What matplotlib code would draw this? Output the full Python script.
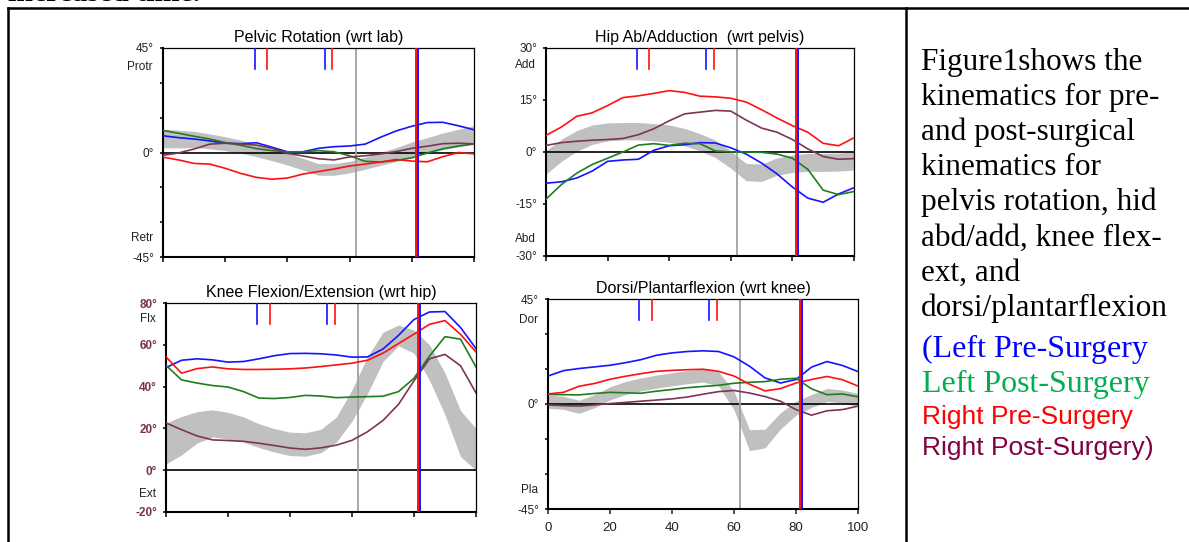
import numpy as np
from matplotlib import pyplot as plt
from matplotlib.lines import Line2D

plt.rcParams['font.family'] = ['Liberation Sans', 'DejaVu Sans']

# gait cycle (%)
cycle = [0, 5, 10, 15, 20, 25, 30, 35, 40, 45, 50, 55, 60, 65, 70, 75, 80, 85, 90, 95, 100]

# pelvic rotation
pelvis_left_pre = [7.2, 6.4, 5.8, 5.0, 4.0, 3.8, 4.2, 2.3, 0.3, 0.3, 1.8, 2.5, 2.8, 3.6, 6.6, 9.3, 11.3, 12.9, 13.0, 11.5, 9.8]
pelvis_left_post = [9.5, 8.3, 7.0, 5.8, 4.3, 3.1, 1.7, 0.8, 0.3, 0.3, 0.8, 0.3, -1.4, -3.8, -4.1, -3.4, -2.3, -0.2, 1.6, 2.8, 3.7]
pelvis_right_pre = [-2.0, -3.2, -4.7, -5.0, -6.8, -9.0, -10.7, -11.5, -11.0, -9.3, -8.2, -7.1, -5.8, -5.0, -4.1, -3.0, -3.7, -4.0, -1.8, 0.0, -0.6]
pelvis_right_post = [-1.2, -0.2, 1.5, 3.6, 4.0, 3.7, 3.2, 1.8, -0.4, -1.5, -2.7, -3.2, -1.9, -1.4, -0.6, 0.4, 1.8, 2.7, 3.8, 4.0, 3.7]
pelvis_norm_mean = [6.0, 5.8, 5.6, 4.8, 3.8, 2.5, 0.8, -1.0, -2.9, -5.0, -7.3, -7.3, -6.3, -4.6, -2.7, -0.9, 1.3, 3.0, 4.8, 6.2, 7.6]
pelvis_norm_sd = [4.0, 3.8, 3.5, 3.2, 3.0, 2.8, 2.6, 2.5, 2.5, 2.5, 2.5, 2.5, 2.5, 2.6, 2.8, 3.0, 3.2, 3.4, 3.6, 3.8, 4.0]

# hip ab/adduction
hip_left_pre = [-9.0, -8.6, -7.5, -5.5, -2.7, -2.3, -2.1, 0.5, 1.8, 2.1, 2.7, 2.6, 1.2, -0.6, -3.2, -6.3, -10.1, -13.3, -14.5, -12.1, -10.3]
hip_left_post = [-13.6, -9.4, -6.1, -3.6, -1.8, 0.0, 2.0, 2.4, 1.9, 2.5, 2.4, 0.3, 0.0, 0.0, -0.1, -0.6, -1.8, -5.0, -11.0, -12.3, -11.4]
hip_right_pre = [4.8, 7.2, 10.3, 11.3, 13.4, 15.7, 16.2, 16.9, 17.7, 17.2, 16.1, 15.9, 15.5, 14.4, 12.2, 9.8, 7.6, 5.7, 2.5, 1.8, 4.1]
hip_right_post = [1.9, 2.7, 3.1, 3.4, 3.6, 3.9, 5.0, 6.7, 9.0, 11.0, 11.5, 12.0, 11.8, 9.2, 6.9, 5.7, 3.6, 0.9, -1.3, -2.1, -1.9]
hip_norm_mean = [-3.0, 0.5, 3.2, 5.0, 5.8, 6.0, 6.0, 5.7, 5.3, 4.3, 2.8, 0.9, -2.2, -5.8, -6.0, -4.2, -3.4, -3.0, -3.0, -2.9, -2.6]
hip_norm_sd = [3.4, 3.2, 3.0, 2.8, 2.6, 2.5, 2.5, 2.5, 2.5, 2.5, 2.5, 2.5, 2.5, 2.5, 2.5, 2.5, 2.5, 2.6, 2.6, 2.6, 2.6]

# knee flexion/extension
knee_left_pre = [49.1, 52.6, 53.3, 52.8, 51.7, 52.0, 53.3, 54.8, 55.8, 55.9, 55.7, 55.1, 54.1, 54.2, 58.0, 64.5, 72.1, 75.7, 75.9, 68.3, 58.2]
knee_left_post = [50.2, 43.2, 41.7, 40.5, 39.8, 37.6, 34.5, 34.3, 34.8, 35.8, 35.5, 34.7, 35.0, 35.2, 35.4, 37.6, 44.0, 54.6, 63.9, 62.7, 49.4]
knee_right_pre = [54.2, 46.4, 48.6, 49.4, 48.5, 48.2, 48.2, 48.3, 48.5, 48.9, 49.6, 50.4, 51.2, 52.6, 56.0, 60.6, 65.1, 69.8, 71.6, 65.0, 56.6]
knee_right_post = [22.6, 19.4, 16.4, 14.5, 14.2, 13.8, 12.9, 11.8, 10.6, 10.0, 10.7, 12.0, 14.3, 18.4, 23.8, 31.5, 42.8, 53.3, 55.4, 50.0, 37.0]
knee_norm_mean = [12.8, 16.5, 20.5, 22.4, 21.3, 19.5, 16.5, 14.3, 12.6, 12.3, 14.0, 19.5, 31.0, 45.5, 59.0, 64.5, 61.5, 51.5, 36.5, 17.5, 10.0]
knee_norm_sd = [9.8, 9.2, 7.5, 6.5, 6.4, 6.0, 5.7, 5.6, 5.6, 5.6, 5.6, 6.0, 7.5, 8.8, 7.0, 5.0, 5.5, 8.5, 10.0, 11.0, 10.0]

# dorsi/plantarflexion
ankle_left_pre = [12.0, 14.3, 15.2, 15.9, 16.6, 17.7, 19.0, 20.9, 21.9, 22.5, 22.8, 22.5, 20.2, 16.2, 11.2, 9.0, 10.5, 15.8, 18.2, 16.5, 13.9]
ankle_left_post = [4.1, 4.0, 3.9, 4.5, 5.0, 4.8, 4.6, 5.5, 6.2, 7.0, 7.5, 8.0, 8.9, 9.3, 9.6, 10.6, 11.0, 6.5, 4.0, 4.3, 3.1]
ankle_right_pre = [4.3, 5.0, 7.6, 8.8, 10.6, 11.9, 13.0, 14.0, 14.4, 14.7, 14.9, 14.0, 12.0, 8.5, 5.6, 6.6, 9.0, 10.5, 11.8, 10.4, 7.7]
ankle_right_post = [-0.4, -0.7, -0.9, -0.4, 0.2, 0.7, 1.2, 1.7, 2.2, 3.0, 4.2, 5.3, 5.8, 4.7, 3.2, 1.2, -2.4, -4.8, -2.9, -2.4, -0.9]
ankle_norm_mean = [1.0, 0.5, -1.2, 1.2, 4.6, 6.8, 8.4, 9.6, 10.6, 11.5, 12.2, 10.8, 1.5, -15.5, -14.8, -7.2, -1.8, 1.3, 3.9, 3.2, 1.7]
ankle_norm_sd = [2.8, 2.8, 2.8, 2.8, 2.8, 2.8, 2.8, 2.8, 2.8, 2.8, 2.8, 3.0, 4.0, 4.5, 4.0, 3.5, 3.0, 2.8, 2.8, 2.8, 2.8]

# gait events (% cycle)
blue_events = [29.5, 52.0]
red_events = [33.6, 54.4]
toe_off_normal = 62.0
toe_off_blue = 81.9
toe_off_red = 81.3

BLUE = '#1414ff'
RED = '#ff1010'
GREEN = '#1e7d1e'
PURPLE = '#7b3556'
KNEE_LABEL = '#7a3548'

W, H = 1189, 542
fig = plt.figure(figsize=(W / 100, H / 100), dpi=100)


def add_axes(left, top, right, bottom):
    return fig.add_axes([left / W, 1 - bottom / H, (right - left) / W, (bottom - top) / H])


def draw_panel(ax, title, ylim, ticks, labels, minor, words, lines, mean, sd,
               label_style=None, xlabels=False):
    mean = np.array(mean)
    sd = np.array(sd)
    ax.fill_between(cycle, mean - sd, mean + sd, color='#c0c0c0', lw=0, zorder=1)
    ax.axhline(0, color='black', lw=1.2, zorder=2)
    ax.axvline(toe_off_normal, color='#a0a0a0', lw=1.3, zorder=2)
    for values, color in lines:
        ax.plot(cycle, values, color=color, lw=1.2, zorder=3)
    ax.axvline(toe_off_red, color=RED, lw=1.4, zorder=4)
    ax.axvline(toe_off_blue, color=BLUE, lw=1.4, zorder=4)
    for e in blue_events:
        ax.axvline(e, ymin=0.9, ymax=1, color=BLUE, lw=1.2, zorder=4)
    for e in red_events:
        ax.axvline(e, ymin=0.9, ymax=1, color=RED, lw=1.2, zorder=4)

    ax.set_xlim(0, 100)
    ax.set_ylim(*ylim)
    ax.set_xticks([0, 20, 40, 60, 80, 100])
    if xlabels:
        ax.tick_params(axis='x', labelsize=9.5, colors='#222222', pad=6)
    else:
        ax.set_xticklabels([])
    ax.set_yticks(ticks)
    ax.set_yticks(minor, minor=True)
    ax.set_yticklabels(labels)
    style = label_style or {}
    for t in ax.get_yticklabels():
        t.set_fontsize(8.5)
        t.set_color(style.get('color', '#222222'))
        t.set_fontweight(style.get('weight', 'normal'))
    ax.tick_params(axis='x', direction='out', length=3.5, width=1.1)
    ax.tick_params(axis='y', which='both', direction='out', length=2.5, width=1.1, pad=4)
    for side in ['left', 'bottom']:
        ax.spines[side].set_linewidth(1.5)
    for side in ['top', 'right']:
        ax.spines[side].set_linewidth(0.9)
    for word, y in words:
        ax.text(-0.033, y, word, transform=ax.get_yaxis_transform(), ha='right', va='center',
                fontsize=8.5, color='#222222')
    ax.set_title(title, fontsize=11.5, pad=4)


ax1 = add_axes(163, 48, 474, 257)
draw_panel(ax1, 'Pelvic Rotation (wrt lab)', (-45, 45), [-45, 0, 45], ['-45°', '0°', '45°'],
           [-30, -15, 15, 30], [('Protr', 37), ('Retr', -37)],
           [(pelvis_left_pre, BLUE), (pelvis_left_post, GREEN), (pelvis_right_pre, RED), (pelvis_right_post, PURPLE)],
           pelvis_norm_mean, pelvis_norm_sd)

ax2 = add_axes(546, 48, 854, 256)
draw_panel(ax2, 'Hip Ab/Adduction  (wrt pelvis)', (-30, 30), [-30, -15, 0, 15, 30],
           ['-30°', '-15°', '0°', '15°', '30°'], [], [('Add', 25), ('Abd', -25)],
           [(hip_left_pre, BLUE), (hip_left_post, GREEN), (hip_right_pre, RED), (hip_right_post, PURPLE)],
           hip_norm_mean, hip_norm_sd)

ax3 = add_axes(166, 303, 476, 512)
draw_panel(ax3, 'Knee Flexion/Extension (wrt hip)', (-20, 80), [-20, 0, 20, 40, 60, 80],
           ['-20°', '0°', '20°', '40°', '60°', '80°'], [], [('Flx', 72.5), ('Ext', -11.5)],
           [(knee_left_pre, BLUE), (knee_left_post, GREEN), (knee_right_pre, RED), (knee_right_post, PURPLE)],
           knee_norm_mean, knee_norm_sd, label_style={'color': KNEE_LABEL, 'weight': 'bold'})

ax4 = add_axes(548, 299, 858, 509)
draw_panel(ax4, 'Dorsi/Plantarflexion (wrt knee)', (-45, 45), [-45, 0, 45], ['-45°', '0°', '45°'],
           [-30, -15, 15, 30], [('Dor', 36), ('Pla', -37)],
           [(ankle_left_pre, BLUE), (ankle_left_post, GREEN), (ankle_right_pre, RED), (ankle_right_post, PURPLE)],
           ankle_norm_mean, ankle_norm_sd, xlabels=True)

# table borders of the document page
fig.add_artist(Line2D([8 / W, 1], [1 - 8 / H, 1 - 8 / H], color='black', lw=1.8))
fig.add_artist(Line2D([8 / W, 8 / W], [0, 1 - 8 / H], color='black', lw=1.8))
fig.add_artist(Line2D([906 / W, 906 / W], [0, 1 - 8 / H], color='black', lw=1.8))

# page text above the table, cut off by the top edge
fig.text(8 / W, 1 - 1.2 / H, 'increased time.', family='Liberation Serif', fontsize=21.5,
         fontweight='bold', va='baseline')

# caption text on the right
caption = ['Figure1shows the', 'kinematics for pre-', 'and post-surgical', 'kinematics for',
           'pelvis rotation, hid', 'abd/add, knee flex-', 'ext, and', 'dorsi/plantarflexion']
caption_base = [70, 105, 140, 175, 210, 246, 281, 316]
for line, y in zip(caption, caption_base):
    fig.text(921 / W, 1 - y / H, line, family='Liberation Serif', fontsize=22.5, va='baseline')

legend_lines = ['(Left Pre-Surgery', 'Left Post-Surgery', 'Right Pre-Surgery', 'Right Post-Surgery)']
legend_colors = ['#0000ff', '#00b050', '#ff0000', '#800040']
legend_fonts = ['Liberation Serif', 'Liberation Serif', 'Liberation Sans', 'Liberation Sans']
legend_sizes = [23, 23, 19, 19]
legend_base = [357, 392, 424, 455]
for line, color, fam, size, y in zip(legend_lines, legend_colors, legend_fonts, legend_sizes, legend_base):
    fig.text(922 / W, 1 - y / H, line, family=fam, fontsize=size, color=color, va='baseline')

fig.savefig('out.png', dpi=100)
